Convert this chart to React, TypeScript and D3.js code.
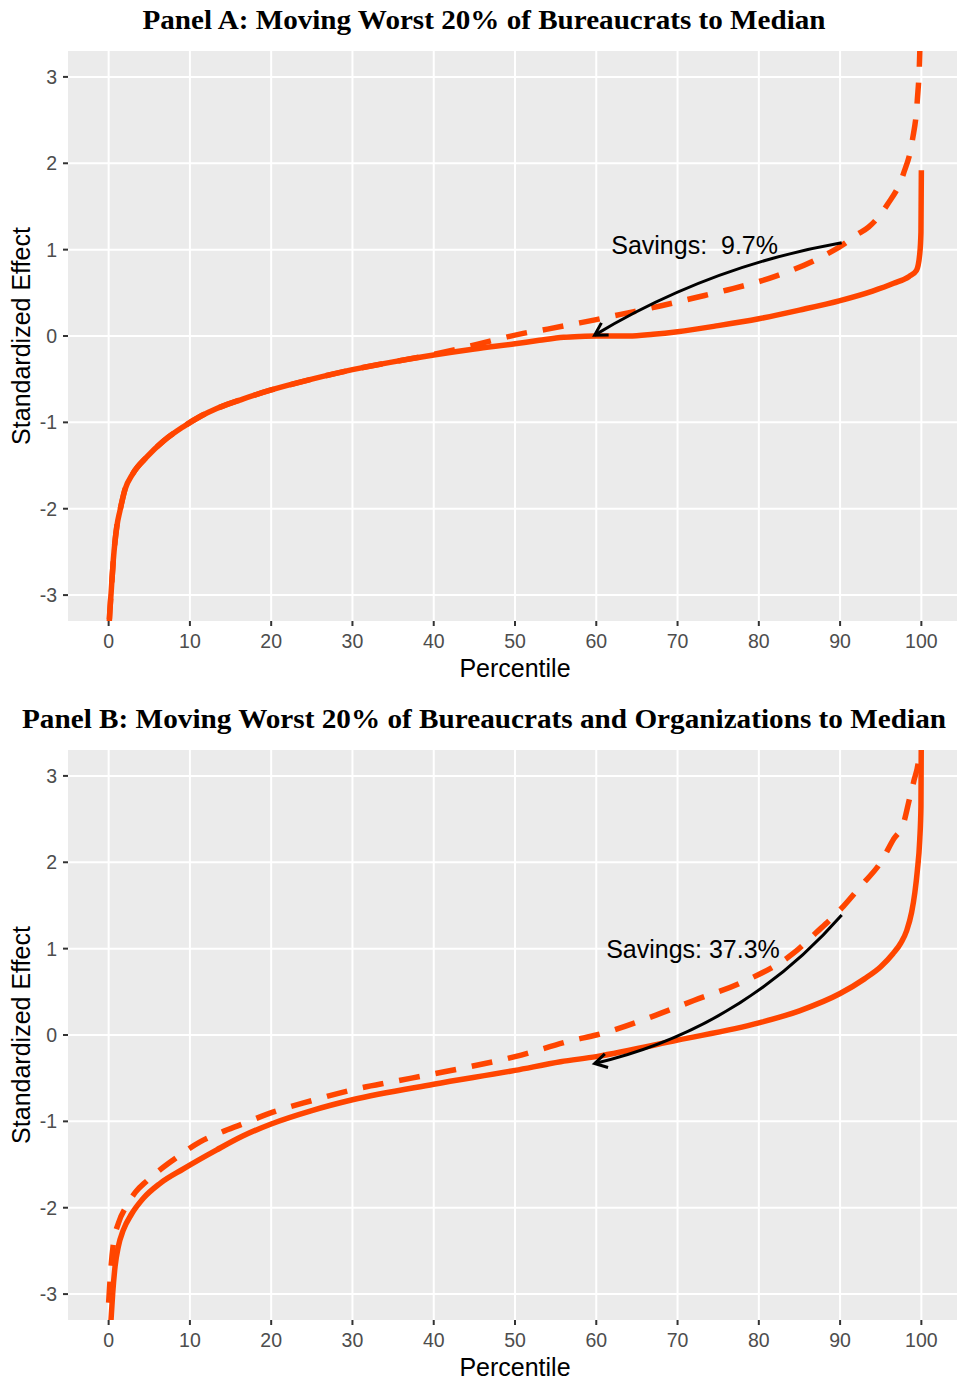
import { useEffect, useRef } from "react"
import * as d3 from "d3"

const xTicks = [0, 10, 20, 30, 40, 50, 60, 70, 80, 90, 100]
const yTicks = [-3, -2, -1, 0, 1, 2, 3]
const yTickLabels = ["-3", "-2", "-1", "0", "1", "2", "3"]

const titleA = "Panel A: Moving Worst 20% of Bureaucrats to Median"
const titleB = "Panel B: Moving Worst 20% of Bureaucrats and Organizations to Median"

// Panel A, actual distribution (solid)
const actualAPct = [0, 0.09, 0.3, 0.58, 1.0, 1.4, 2.0, 3.0, 4.7, 6.7, 9.2, 11.2, 13.3, 16.5, 20, 25, 30, 35, 40, 45, 50, 53, 56, 58, 60, 64, 67, 70, 75, 80, 85, 90, 94, 96.6, 98.5, 99.4, 99.8, 99.95, 100]
const actualAVal = [-3.5, -3.29, -2.98, -2.59, -2.21, -2.02, -1.78, -1.59, -1.4, -1.22, -1.05, -0.935, -0.84, -0.73, -0.625, -0.5, -0.39, -0.3, -0.22, -0.15, -0.09, -0.05, -0.015, -0.005, 0.0, 0.0, 0.02, 0.05, 0.12, 0.2, 0.3, 0.41, 0.52, 0.61, 0.69, 0.76, 0.95, 1.2, 1.92]

// Panel A, counterfactual (dashed)
const cfAPct = [0, 0.09, 0.3, 0.58, 1.0, 1.4, 2.0, 3.0, 4.7, 6.7, 9.2, 11.2, 13.3, 16.5, 20, 25, 30, 35, 39, 43, 47.5, 51, 54, 57, 60, 63, 68, 72, 76, 82, 88, 90.4, 92, 93.5, 95.8, 97.8, 98.9, 99.5, 99.8, 100]
const cfAVal = [-3.5, -3.29, -2.98, -2.59, -2.21, -2.02, -1.78, -1.59, -1.4, -1.22, -1.05, -0.935, -0.84, -0.73, -0.625, -0.5, -0.39, -0.3, -0.23, -0.15, -0.045, 0.03, 0.08, 0.135, 0.19, 0.25, 0.35, 0.44, 0.53, 0.69, 0.93, 1.06, 1.17, 1.26, 1.52, 1.88, 2.27, 2.73, 3.27, 4.2]

// Panel B, actual distribution (solid)
const actualBPct = [0, 0.3, 0.5, 0.79, 1.19, 1.8, 2.84, 4.27, 6.3, 9.2, 13.3, 16.5, 20, 25, 30, 40, 50, 55.6, 60, 70, 80, 85, 90, 93, 95, 96.5, 97.5, 98.2, 98.8, 99.2, 99.5, 99.8, 99.95, 100]
const actualBVal = [-3.6, -3.29, -2.99, -2.68, -2.45, -2.26, -2.07, -1.89, -1.72, -1.55, -1.33, -1.17, -1.03, -0.875, -0.75, -0.57, -0.41, -0.31, -0.25, -0.06, 0.14, 0.28, 0.48, 0.65, 0.79, 0.94, 1.07, 1.21, 1.42, 1.65, 1.9, 2.26, 2.65, 3.6]

// Panel B, counterfactual (dashed)
const cfBPct = [0, 0.2, 0.58, 1.2, 2.2, 3.3, 4.7, 6.2, 7.9, 11.2, 14, 16.2, 20.3, 25, 30.2, 35, 40, 50, 57.2, 60, 67.9, 72, 77.7, 84.3, 87, 90.4, 92.5, 95, 96.6, 97.8, 98.6, 99.1, 99.7, 100]
const cfBVal = [-3.1, -2.8, -2.42, -2.18, -1.98, -1.82, -1.69, -1.57, -1.45, -1.24, -1.12, -1.04, -0.89, -0.76, -0.63, -0.54, -0.45, -0.25, -0.06, 0.0, 0.25, 0.4, 0.6, 0.95, 1.18, 1.49, 1.72, 2.0, 2.27, 2.45, 2.76, 2.95, 3.22, 3.6]

// annotations: [percentile, effect]
const labelA = "Savings:  9.7%"
const labelAPos = [72.1, 1.05]
const arrowA = { from: [90.2, 1.08], to: [59.8, 0.01], bend: -0.093 }

const labelB = "Savings: 37.3%"
const labelBPos = [71.9, 1.0]
const arrowB = { from: [90.2, 1.39], to: [59.8, -0.33], bend: 0.16 }

const ORANGE = "#FF4500"
const SANS = "'Liberation Sans', Arial, sans-serif"

interface PanelOpts {
  id: string
  top: number
  title: string
  titleWidth: number
  solid: [number[], number[]]
  dashed: [number[], number[]]
  dashOffset: number
  label: string
  labelPos: number[]
  arrow: { from: number[]; to: number[]; bend: number }
}

function drawPanel(svg: d3.Selection<SVGSVGElement, unknown, null, undefined>, o: PanelOpts) {
  const left = 68
  const right = 962
  const height = 570
  const top = o.top
  const bottom = top + height

  const x = d3.scaleLinear().domain([-5, 105]).range([left, right])
  const y = d3.scaleLinear().domain([-3.3, 3.3]).range([bottom, top])

  // title
  svg
    .append("text")
    .attr("x", 484)
    .attr("y", top - 22)
    .attr("text-anchor", "middle")
    .attr("textLength", o.titleWidth)
    .attr("lengthAdjust", "spacingAndGlyphs")
    .style("font-family", "'Liberation Serif', 'Times New Roman', serif")
    .style("font-weight", "bold")
    .style("font-size", "27px")
    .style("fill", "#000")
    .text(o.title)

  // panel background
  svg
    .append("rect")
    .attr("x", left)
    .attr("y", top)
    .attr("width", right - left)
    .attr("height", height)
    .attr("fill", "#EBEBEB")

  // grid
  svg
    .append("g")
    .selectAll("line")
    .data(xTicks)
    .enter()
    .append("line")
    .attr("x1", (d) => x(d))
    .attr("x2", (d) => x(d))
    .attr("y1", top)
    .attr("y2", bottom)
    .attr("stroke", "#fff")
    .attr("stroke-width", 2)

  svg
    .append("g")
    .selectAll("line")
    .data(yTicks)
    .enter()
    .append("line")
    .attr("x1", left)
    .attr("x2", right)
    .attr("y1", (d) => y(d))
    .attr("y2", (d) => y(d))
    .attr("stroke", "#fff")
    .attr("stroke-width", 2)

  // clip for the curves
  svg
    .append("clipPath")
    .attr("id", `clip-${o.id}`)
    .append("rect")
    .attr("x", left)
    .attr("y", top)
    .attr("width", right - left)
    .attr("height", height)

  const plot = svg.append("g").attr("clip-path", `url(#clip-${o.id})`)

  const line = d3.line().curve(d3.curveMonotoneX)
  const toPts = (s: [number[], number[]]) => s[0].map((p, i) => [x(p), y(s[1][i])] as [number, number])

  plot
    .append("path")
    .attr("d", line(toPts(o.solid)))
    .attr("fill", "none")
    .attr("stroke", ORANGE)
    .attr("stroke-width", 5.5)
    .attr("stroke-linejoin", "round")

  plot
    .append("path")
    .attr("d", line(toPts(o.dashed)))
    .attr("fill", "none")
    .attr("stroke", ORANGE)
    .attr("stroke-width", 5.5)
    .attr("stroke-dasharray", "21,16")
    .attr("stroke-dashoffset", o.dashOffset)
    .attr("stroke-linejoin", "round")

  // curved arrow
  const [sx, sy] = [x(o.arrow.from[0]), y(o.arrow.from[1])]
  const [ex, ey] = [x(o.arrow.to[0]), y(o.arrow.to[1])]
  const len = Math.hypot(ex - sx, ey - sy)
  const dx = (ex - sx) / len
  const dy = (ey - sy) / len
  const cx = (sx + ex) / 2 + o.arrow.bend * len * dy
  const cy = (sy + ey) / 2 - o.arrow.bend * len * dx
  const ap = d3.path()
  ap.moveTo(sx, sy)
  ap.quadraticCurveTo(cx, cy, ex, ey)
  plot
    .append("path")
    .attr("d", ap.toString())
    .attr("fill", "none")
    .attr("stroke", "#000")
    .attr("stroke-width", 3)

  const ang = Math.atan2(ey - cy, ex - cx)
  const headLen = 14
  const spread = Math.PI / 6
  const hp = d3.path()
  hp.moveTo(ex - headLen * Math.cos(ang - spread), ey - headLen * Math.sin(ang - spread))
  hp.lineTo(ex, ey)
  hp.lineTo(ex - headLen * Math.cos(ang + spread), ey - headLen * Math.sin(ang + spread))
  plot
    .append("path")
    .attr("d", hp.toString())
    .attr("fill", "none")
    .attr("stroke", "#000")
    .attr("stroke-width", 3)
    .attr("stroke-linejoin", "miter")

  // label
  plot
    .append("text")
    .attr("x", x(o.labelPos[0]))
    .attr("y", y(o.labelPos[1]) + 9)
    .attr("text-anchor", "middle")
    .style("font-family", SANS)
    .style("font-size", "25px")
    .style("white-space", "pre")
    .style("fill", "#000")
    .text(o.label)

  // x axis ticks + labels
  const xa = svg.append("g")
  xa.selectAll("line")
    .data(xTicks)
    .enter()
    .append("line")
    .attr("x1", (d) => x(d))
    .attr("x2", (d) => x(d))
    .attr("y1", bottom)
    .attr("y2", bottom + 5)
    .attr("stroke", "#333")
    .attr("stroke-width", 2)
  xa.selectAll("text")
    .data(xTicks)
    .enter()
    .append("text")
    .attr("x", (d) => x(d))
    .attr("y", bottom + 27)
    .attr("text-anchor", "middle")
    .style("font-family", SANS)
    .style("font-size", "19.5px")
    .style("fill", "#4D4D4D")
    .text((d) => String(d))

  // y axis ticks + labels
  const ya = svg.append("g")
  ya.selectAll("line")
    .data(yTicks)
    .enter()
    .append("line")
    .attr("x1", left - 5)
    .attr("x2", left)
    .attr("y1", (d) => y(d))
    .attr("y2", (d) => y(d))
    .attr("stroke", "#333")
    .attr("stroke-width", 2)
  ya.selectAll("text")
    .data(yTicks)
    .enter()
    .append("text")
    .attr("x", left - 11)
    .attr("y", (d) => y(d) + 7)
    .attr("text-anchor", "end")
    .style("font-family", SANS)
    .style("font-size", "19.5px")
    .style("fill", "#4D4D4D")
    .text((_, i) => yTickLabels[i])

  // axis titles
  svg
    .append("text")
    .attr("x", (left + right) / 2)
    .attr("y", bottom + 56)
    .attr("text-anchor", "middle")
    .style("font-family", SANS)
    .style("font-size", "25px")
    .style("fill", "#000")
    .text("Percentile")

  svg
    .append("text")
    .attr("transform", `translate(30,${(top + bottom) / 2}) rotate(-90)`)
    .attr("text-anchor", "middle")
    .style("font-family", SANS)
    .style("font-size", "25px")
    .style("fill", "#000")
    .text("Standardized Effect")
}

export default function App() {
  const svgRef = useRef<SVGSVGElement>(null)

  useEffect(() => {
    if (!svgRef.current) return
    const svg = d3.select(svgRef.current)
    svg.selectAll("*").remove()

    svg.append("rect").attr("width", 957).attr("height", 1381).attr("fill", "#fff")

    drawPanel(svg, {
      id: "a",
      top: 51,
      title: titleA,
      titleWidth: 683,
      solid: [actualAPct, actualAVal],
      dashed: [cfAPct, cfAVal],
      dashOffset: 18,
      label: labelA,
      labelPos: labelAPos,
      arrow: arrowA,
    })

    drawPanel(svg, {
      id: "b",
      top: 750,
      title: titleB,
      titleWidth: 924,
      solid: [actualBPct, actualBVal],
      dashed: [cfBPct, cfBVal],
      dashOffset: 0,
      label: labelB,
      labelPos: labelBPos,
      arrow: arrowB,
    })
  }, [])

  return (
    <svg
      ref={svgRef}
      width={957}
      height={1381}
      style={{ position: "absolute", left: 0, top: 0, display: "block" }}
    ></svg>
  )
}
